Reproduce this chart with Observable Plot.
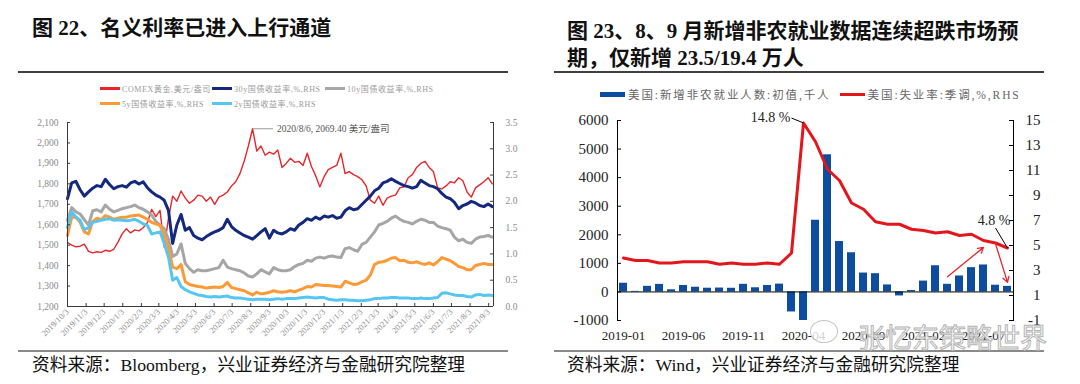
<!DOCTYPE html>
<html>
<head>
<meta charset="utf-8">
<script src="https://cdn.jsdelivr.net/npm/d3@7"></script>
<script src="https://cdn.jsdelivr.net/npm/@observablehq/plot@0.6"></script>
<style>
  html, body { margin: 0; padding: 0; background: #fff; }
  #root { position: relative; width: 1080px; height: 384px; overflow: hidden; background: #fff;
          font-family: "Liberation Serif", "Noto Sans CJK SC", serif; }
  .title { position: absolute; font-weight: bold; font-size: 21px; color: #111; white-space: nowrap; line-height: 27px; }
  .rule { position: absolute; height: 2px; background: #404040; }
  .brule { position: absolute; height: 1.5px; background: #8a8a8a; }
  .foot { position: absolute; font-size: 17.7px; color: #111; white-space: nowrap; line-height: 20px; }
  .chart { position: absolute; }
  #legL { position: absolute; left: 100px; top: 81px; display: grid; grid-template-columns: 112px 113px auto;
          grid-auto-rows: 15px; font-size: 8px; color: #9a9a9a; letter-spacing: 0.6px; }
  #legL .it { display: flex; align-items: center; white-space: nowrap; }
  #legL .sw { width: 20px; height: 2.5px; margin-right: 2px; }
  #legR { position: absolute; left: 600px; top: 86px; display: flex; align-items: center; font-size: 11.5px;
          color: #666; letter-spacing: 1.9px; white-space: nowrap; }
  #legR .it { display: flex; align-items: center; margin-right: 9px; }
  #legR .sw { width: 25px; margin-right: 3px; }
  #wm { position: absolute; left: 858px; top: 317px; font-size: 27px; font-family: "Noto Sans CJK SC", sans-serif;
        color: rgba(255,255,255,0.75); -webkit-text-stroke: 1px #b4b4b4; white-space: nowrap; letter-spacing: 0px; }
  #wmIcon { position: absolute; left: 810px; top: 320px; width: 26px; height: 21px; border-radius: 50%;
            border: 1.5px solid #c4c4c4; background: rgba(255,255,255,0.8); }
</style>
</head>
<body>
<div id="root">
  <div class="title" style="left:32px; top:15px;">图 22、名义利率已进入上行通道</div>
  <div class="title" style="left:567px; top:18px;">图 23、8、9 月新增非农就业数据连续超跌市场预<br>期，仅新增 23.5/19.4 万人</div>
  <div class="rule" style="left:18px; width:490px; top:71px;"></div>
  <div class="rule" style="left:554px; width:490px; top:71px;"></div>
  <div id="legL"></div>
  <div id="legR"></div>
  <div class="chart" id="chartL" style="left:0px; top:110px;"></div>
  <div class="chart" id="chartR" style="left:540px; top:105px;"></div>
  <div class="brule" style="left:18px; width:490px; top:350px;"></div>
  <div class="brule" style="left:554px; width:490px; top:350px;"></div>
  <div class="foot" style="left:32px; top:355px;">资料来源：Bloomberg，兴业证券经济与金融研究院整理</div>
  <div class="foot" style="left:567px; top:355px;">资料来源：Wind，兴业证券经济与金融研究院整理</div>
  <div id="wmIcon"></div>
  <div id="wm">张忆东策略世界</div>
</div>
<script>
// ---------------- Left chart data (weekly readings, from 2019-10-03) ----------------
const seriesNames = ["COMEX黄金,美元/盎司", "30y国债收益率,%,RHS", "10y国债收益率,%,RHS", "5y国债收益率,%,RHS", "2y国债收益率,%,RHS"];
const seriesColors = ["#e8262a", "#13287e", "#a6a6a6", "#fd9a35", "#55c6f2"];

const gold = [1513,1500,1492,1495,1505,1470,1462,1468,1465,1475,
  1470,1480,1515,1555,1580,1560,1575,1570,1585,1610,
  1675,1640,1670,1490,1630,1740,1715,1765,1730,1705,
  1720,1745,1740,1715,1735,1700,1735,1745,1760,1790,
  1810,1850,1910,1985,2069.4,1960,1985,1940,1955,1945,
  1965,1880,1900,1925,1905,1910,1890,1950,1885,1840,
  1785,1835,1870,1880,1890,1950,1850,1860,1845,1835,
  1820,1790,1720,1705,1740,1695,1730,1740,1745,1780,
  1785,1830,1845,1880,1900,1910,1880,1860,1780,1775,
  1790,1810,1805,1830,1815,1760,1735,1780,1795,1810,
  1830,1800];
const y30 = [2.05,2.35,2.38,2.22,2.10,2.18,2.25,2.30,2.28,2.42,
  2.32,2.24,2.28,2.30,2.27,2.35,2.38,2.33,2.37,2.26,
  2.18,2.12,2.08,2.02,1.83,1.20,1.55,1.75,1.45,1.50,
  1.35,1.30,1.27,1.33,1.38,1.42,1.45,1.50,1.66,1.52,
  1.45,1.40,1.35,1.32,1.28,1.35,1.42,1.48,1.30,1.45,
  1.40,1.38,1.42,1.48,1.45,1.55,1.60,1.67,1.64,1.70,
  1.66,1.72,1.70,1.73,1.68,1.70,1.82,1.88,1.84,1.86,
  1.94,2.02,2.10,2.20,2.25,2.35,2.38,2.43,2.38,2.34,
  2.30,2.28,2.25,2.28,2.40,2.35,2.30,2.28,2.24,2.15,
  2.08,2.05,1.98,1.86,1.92,1.95,2.00,1.97,1.92,1.90,
  1.95,1.90];
const y10 = [1.64,1.88,1.80,1.76,1.65,1.55,1.82,1.84,1.80,1.93,
  1.85,1.80,1.83,1.86,1.88,1.90,1.93,1.88,1.85,1.80,
  1.74,1.62,1.55,1.48,1.28,0.95,1.00,1.19,0.82,0.72,
  0.65,0.70,0.68,0.68,0.70,0.72,0.74,0.88,0.75,0.72,
  0.70,0.68,0.64,0.58,0.56,0.62,0.70,0.66,0.62,0.74,
  0.70,0.68,0.68,0.70,0.76,0.80,0.82,0.88,0.86,0.92,
  0.94,0.92,0.95,0.96,0.94,0.93,1.10,1.12,1.08,1.05,
  1.18,1.22,1.32,1.42,1.55,1.58,1.62,1.68,1.72,1.66,
  1.62,1.60,1.57,1.62,1.66,1.64,1.60,1.60,1.53,1.50,
  1.48,1.45,1.32,1.25,1.28,1.22,1.20,1.28,1.32,1.33,
  1.35,1.32];
const y5 = [1.35,1.70,1.70,1.60,1.42,1.38,1.62,1.68,1.65,1.73,
  1.70,1.66,1.68,1.70,1.70,1.72,1.73,1.74,1.70,1.66,
  1.60,1.57,1.54,1.35,1.12,0.75,0.72,0.80,0.47,0.42,
  0.40,0.38,0.37,0.35,0.36,0.37,0.36,0.38,0.46,0.36,
  0.34,0.32,0.30,0.26,0.22,0.27,0.24,0.25,0.27,0.30,
  0.28,0.27,0.28,0.30,0.28,0.31,0.34,0.38,0.37,0.42,
  0.41,0.40,0.40,0.39,0.38,0.37,0.48,0.45,0.42,0.43,
  0.47,0.50,0.60,0.80,0.84,0.85,0.88,0.92,0.93,0.87,
  0.88,0.84,0.83,0.85,0.82,0.80,0.83,0.79,0.85,0.93,
  0.90,0.87,0.82,0.76,0.74,0.70,0.70,0.78,0.80,0.82,
  0.80,0.80];
const y2 = [1.50,1.80,1.70,1.64,1.46,1.50,1.60,1.62,1.64,1.66,
  1.67,1.64,1.65,1.64,1.63,1.64,1.66,1.62,1.57,1.54,
  1.38,1.40,1.42,1.20,0.94,0.50,0.55,0.38,0.32,0.28,
  0.25,0.22,0.21,0.19,0.18,0.19,0.18,0.19,0.20,0.17,
  0.16,0.16,0.15,0.14,0.13,0.14,0.14,0.14,0.13,0.14,
  0.15,0.14,0.15,0.15,0.15,0.16,0.17,0.18,0.17,0.16,
  0.17,0.17,0.14,0.13,0.12,0.13,0.13,0.12,0.12,0.11,
  0.11,0.12,0.13,0.15,0.15,0.16,0.16,0.17,0.17,0.16,
  0.16,0.16,0.15,0.15,0.16,0.15,0.15,0.16,0.17,0.25,
  0.26,0.24,0.22,0.21,0.21,0.19,0.18,0.22,0.23,0.21,
  0.22,0.21];

const goldTicks = [1200,1300,1400,1500,1600,1700,1800,1900,2000,2100];
const yieldTicks = [0,0.5,1.0,1.5,2.0,2.5,3.0,3.5];
const dateTickLabels = ["2019/10/3","2019/11/3","2019/12/3","2020/1/3","2020/2/3","2020/3/3","2020/4/3","2020/5/3",
  "2020/6/3","2020/7/3","2020/8/3","2020/9/3","2020/10/3","2020/11/3","2020/12/3","2021/1/3","2021/2/3",
  "2021/3/3","2021/4/3","2021/5/3","2021/6/3","2021/7/3","2021/8/3","2021/9/3"];
const peakLabel = "2020/8/6, 2069.40 美元/盎司";

// ---------------- Right chart data ----------------
const months = ["2019-01","2019-02","2019-03","2019-04","2019-05","2019-06","2019-07","2019-08","2019-09","2019-10","2019-11","2019-12",
  "2020-01","2020-02","2020-03","2020-04","2020-05","2020-06","2020-07","2020-08","2020-09","2020-10","2020-11","2020-12",
  "2021-01","2021-02","2021-03","2021-04","2021-05","2021-06","2021-07","2021-08","2021-09"];
const payrolls = [304,20,196,263,75,224,164,130,136,128,266,145,225,273,-701,-20500,2509,4800,1763,1371,661,638,245,-140,49,379,916,266,559,850,943,235,194];
const unemployment = [4.0,3.8,3.8,3.6,3.6,3.7,3.7,3.7,3.5,3.6,3.5,3.5,3.6,3.5,4.4,14.8,13.3,11.1,10.2,8.4,7.9,6.9,6.7,6.7,6.3,6.2,6.0,6.1,5.8,5.9,5.4,5.2,4.8];
const payTicks = [-1000,0,1000,2000,3000,4000,5000,6000];
const rateTicks = [-1,1,3,5,7,9,11,13,15];
const monthLabels = ["2019-01","2019-06","2019-11","2020-04","2020-09","2021-02","2021-07"];
const rightNames = ["美国:新增非农就业人数:初值,千人", "美国:失业率:季调,%,RHS"];
const rightColors = ["#0d4c9e", "#e3161c"];
// annotation guides (rate units, RHS)
const leaders = [
  {m1: "2020-03", r1: 15.2, m2: "2020-04", r2: 14.8},
  {m1: "2021-08", r1: 6.4, m2: "2021-09", r2: 4.8}
];
const trendArrows = [
  {m1: "2021-04", r1: 2.5, m2: "2021-07", r2: 4.85},
  {m1: "2021-08", r1: 5.15, m2: "2021-09", r2: 2.05}
];

// ---------------- Legends ----------------
const legL = document.getElementById("legL");
seriesNames.forEach((n, i) => {
  const it = document.createElement("div"); it.className = "it";
  it.innerHTML = `<span class="sw" style="background:${seriesColors[i]}"></span><span>${n}</span>`;
  legL.appendChild(it);
});
legL.children[3].style.gridColumn = "1";
legL.children[3].style.gridRow = "2";
legL.children[4].style.gridColumn = "2";
legL.children[4].style.gridRow = "2";
const legR = document.getElementById("legR");
rightNames.forEach((n, i) => {
  const it = document.createElement("div"); it.className = "it";
  it.innerHTML = `<span class="sw" style="background:${rightColors[i]};height:${i === 0 ? 5 : 3}px"></span><span>${n}</span>`;
  legR.appendChild(it);
});

// ---------------- Left chart ----------------
const start = new Date(Date.UTC(2019, 9, 3));
const end = new Date(Date.UTC(2021, 8, 11));
const weekDates = gold.map((_, i) => d3.utcDay.offset(start, 7 * i));
const toGold = d3.scaleLinear([0, 3.5], [1200, 2100]);
const parseSlash = d3.utcParse("%Y/%m/%d");
const dateTicks = dateTickLabels.map(parseSlash);
const labelByTime = new Map(dateTicks.map((d, i) => [+d, dateTickLabels[i]]));

const rowsOf = (vals, yieldSeries) => vals.map((v, i) => ({date: weekDates[i], value: yieldSeries ? toGold(v) : v}));
const goldRows = rowsOf(gold, false);
const yieldData = [y30, y10, y5, y2].map(s => rowsOf(s, true));
const peakIdx = gold.indexOf(d3.max(gold));
const peak = {date: weekDates[peakIdx], value: gold[peakIdx], end: d3.utcDay.offset(weekDates[peakIdx], 34)};

const LW = 540, LH = 240, LmL = 67, LmR = 47, LmT = 12, LmB = 44;
const LpW = LW - LmL - LmR, LpH = LH - LmT - LmB;
const axisColor = "#3a3a3a";

const leftPlot = Plot.plot({
  width: LW, height: LH, marginLeft: LmL, marginRight: LmR, marginTop: LmT, marginBottom: LmB,
  style: {fontFamily: '"Liberation Serif","Noto Sans CJK SC",serif', fontSize: "9.5px", color: "#8a8a8a", background: "transparent", overflow: "visible"},
  x: {type: "utc", domain: [start, end], label: null},
  y: {domain: [1200, 2100], label: null},
  marks: [
    Plot.line(goldRows, {x: "date", y: "value", stroke: seriesColors[0], strokeWidth: 1.4}),
    ...yieldData.map((rows, k) => Plot.line(rows, {x: "date", y: "value", stroke: seriesColors[k + 1], strokeWidth: 3, curve: "linear"})),
    Plot.link([peak], {x1: "date", y1: "value", x2: "end", y2: "value", stroke: "#9a9a9a", strokeWidth: 1}),
    Plot.text([peak], {x: "end", y: "value", text: () => peakLabel, textAnchor: "start", dx: 4, fill: "#555", fontSize: 9.5}),
    Plot.ruleX([start, end], {stroke: axisColor, strokeWidth: 1}),
    Plot.ruleY([1200], {stroke: axisColor, strokeWidth: 1}),
    Plot.tickY(goldTicks, {y: d => d, insetRight: LpW - 3, stroke: axisColor}),
    Plot.tickY(yieldTicks, {y: d => toGold(d), insetLeft: LpW - 3, stroke: axisColor}),
    Plot.tickX(dateTicks, {x: d => d, insetTop: LpH - 3, stroke: axisColor}),
    Plot.axisY({anchor: "left", ticks: goldTicks, tickFormat: d3.format(","), tickSize: 0, tickPadding: 9}),
    Plot.axisY({anchor: "right", ticks: yieldTicks.map(toGold), tickFormat: d => toGold.invert(d).toFixed(1), tickSize: 0, tickPadding: 12}),
    Plot.axisX({ticks: dateTicks, tickFormat: d => labelByTime.get(+d), tickRotate: -45, tickSize: 0, tickPadding: 4, textAnchor: "end", fontSize: 8.5})
  ]
});
document.getElementById("chartL").appendChild(leftPlot);

// ---------------- Right chart ----------------
const toPay = d3.scaleLinear([-1, 15], [-1000, 6000]);
const rRows = months.map((m, i) => ({month: m, pay: payrolls[i], rate: unemployment[i]}));
const peakRate = rRows[d3.maxIndex(rRows, d => d.rate)];
const lastRate = rRows[rRows.length - 1];

const RW = 540, RH = 245, RmL = 77, RmR = 67, RmT = 15, RmB = 30;
const RpW = RW - RmL - RmR;
const rightPlot = Plot.plot({
  width: RW, height: RH, marginLeft: RmL, marginRight: RmR, marginTop: RmT, marginBottom: RmB,
  style: {fontFamily: '"Liberation Serif","Noto Sans CJK SC",serif', fontSize: "15px", color: "#222", background: "transparent", overflow: "visible"},
  x: {type: "band", domain: months, paddingInner: 0.35, paddingOuter: 0.175, label: null},
  y: {domain: [-1000, 6000], label: null},
  marks: [
    Plot.barY(rRows, {x: "month", y: "pay", fill: rightColors[0], clip: true}),
    Plot.ruleY([0], {stroke: "#000", strokeWidth: 1}),
    Plot.line(rRows, {x: "month", y: d => toPay(d.rate), stroke: rightColors[1], strokeWidth: 3}),
    Plot.frame({anchor: "left", stroke: "#000"}),
    Plot.frame({anchor: "right", stroke: "#000"}),
    Plot.tickY(payTicks, {y: d => d, insetRight: RpW - 4, stroke: "#000"}),
    Plot.tickY(rateTicks, {y: d => toPay(d), insetLeft: RpW - 4, stroke: "#000"}),
    Plot.link(leaders, {x1: "m1", y1: d => toPay(d.r1), x2: "m2", y2: d => toPay(d.r2), stroke: "#000", strokeWidth: 1}),
    Plot.text([peakRate], {x: "month", y: d => toPay(d.rate), text: d => d.rate.toFixed(1) + " %", textAnchor: "end", dx: -13, dy: -5, fontSize: 14, fill: "#222"}),
    Plot.text([lastRate], {x: "month", y: d => toPay(d.rate), text: d => d.rate.toFixed(1) + " %", textAnchor: "end", dx: 3, dy: -27, fontSize: 14, fill: "#222"}),
    Plot.arrow(trendArrows, {x1: "m1", y1: d => toPay(d.r1), x2: "m2", y2: d => toPay(d.r2), stroke: "#e8262a", strokeWidth: 1.3, headLength: 7}),
    Plot.axisY({anchor: "left", ticks: payTicks, tickSize: 0, tickPadding: 9, tickFormat: d => String(d)}),
    Plot.axisY({anchor: "right", ticks: rateTicks.map(toPay), tickFormat: d => String(Math.round(toPay.invert(d))), tickSize: 0, tickPadding: 27, textAnchor: "end"}),
    Plot.axisX({ticks: monthLabels, tickSize: 0, tickPadding: 10, fontSize: 13})
  ]
});
document.getElementById("chartR").appendChild(rightPlot);
</script>
</body>
</html>
